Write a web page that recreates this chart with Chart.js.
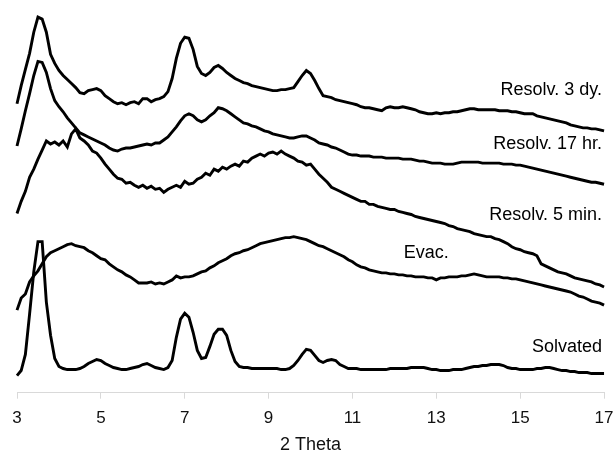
<!DOCTYPE html>
<html>
<head>
<meta charset="utf-8">
<script src="https://cdn.jsdelivr.net/npm/chart.js@4/dist/chart.umd.min.js"></script>
<style>
html,body{margin:0;padding:0;background:#fff;}
#wrap{width:615px;height:455px;position:relative;}
</style>
</head>
<body>
<div id="wrap"><canvas id="c" width="615" height="455"></canvas></div>
<script>
// 2-theta positions (degrees)
const theta = [
3.0,3.1,3.2,3.3,3.4,3.5,3.6,3.7,3.8,3.9,
4.0,4.1,4.2,4.3,4.4,4.5,4.6,4.7,4.8,4.9,
5.0,5.1,5.2,5.3,5.4,5.5,5.6,5.7,5.8,5.9,
6.0,6.1,6.2,6.3,6.4,6.5,6.6,6.7,6.8,6.9,
7.0,7.1,7.2,7.3,7.4,7.5,7.6,7.7,7.8,7.9,
8.0,8.1,8.2,8.3,8.4,8.5,8.6,8.7,8.8,8.9,
9.0,9.1,9.2,9.3,9.4,9.5,9.6,9.7,9.8,9.9,
10.0,10.1,10.2,10.3,10.4,10.5,10.6,10.7,10.8,10.9,
11.0,11.1,11.2,11.3,11.4,11.5,11.6,11.7,11.8,11.9,
12.0,12.1,12.2,12.3,12.4,12.5,12.6,12.7,12.8,12.9,
13.0,13.1,13.2,13.3,13.4,13.5,13.6,13.7,13.8,13.9,
14.0,14.1,14.2,14.3,14.4,14.5,14.6,14.7,14.8,14.9,
15.0,15.1,15.2,15.3,15.4,15.5,15.6,15.7,15.8,15.9,
16.0,16.1,16.2,16.3,16.4,16.5,16.6,16.7,16.8,16.9,
17.0
];

// Intensities (arbitrary units, traces offset vertically)
const resolv3dy = [
287,305,321,337,358,373,371,358,336,327,
320,315,311,307,303,298,297,300,301,302,
300,295,292,289,287,288,286,288,289,287,
292,292,289,291,292,294,299,312,332,347,
353,352,341,324,317,315,318,323,325,322,
318,315,312,310,308,307,305,304,303,302,
301,300,300,301,301,302,303,309,315,320,
317,310,302,295,294,293,291,290,289,288,
287,286,284,283,283,282,281,280,283,284,
283,283,284,283,282,281,279,278,277,277,
278,277,278,278,279,279,280,281,282,282,
281,281,281,281,281,280,280,280,279,279,
278,277,277,277,275,274,273,272,271,270,
269,268,266,265,264,263,263,262,262,261,
260
];
const resolv17hr = [
245,262,280,297,315,329,328,318,302,290,
284,279,273,268,263,258,256,254,252,250,
248,246,243,241,240,242,243,243,244,245,
246,247,246,248,248,251,254,259,264,270,
275,277,275,271,269,271,275,278,283,282,
280,277,274,271,268,267,265,264,262,260,
259,257,256,255,254,253,253,254,255,255,
253,251,248,247,246,244,243,241,239,237,
236,236,235,235,235,234,234,234,233,233,
233,233,232,232,232,231,230,230,229,228,
228,228,227,227,227,228,229,229,229,229,
229,228,228,228,228,228,227,227,227,226,
226,225,224,223,222,221,220,219,218,217,
216,215,214,213,212,211,210,209,209,208,
207
];
const resolv5min = [
178,190,200,214,222,232,241,250,247,249,
246,250,244,257,262,253,250,246,240,238,
233,227,222,217,213,212,208,209,206,204,
206,203,205,202,203,199,202,204,206,204,
210,207,208,212,214,218,216,222,220,224,
222,225,227,225,230,229,233,235,237,235,
238,239,237,240,237,235,233,230,229,226,
227,222,217,213,209,204,202,200,198,196,
194,192,190,190,187,187,185,184,183,182,
182,180,179,178,177,175,174,173,172,171,
170,169,168,166,165,163,162,161,160,158,
157,156,155,155,153,152,150,148,145,143,
142,140,139,138,136,128,126,124,122,120,
119,118,116,114,113,112,111,110,108,107,
105
];
const evac = [
82,94,98,110,116,121,128,135,139,141,
143,145,147,148,146,145,144,141,139,136,
133,132,128,125,122,120,117,115,112,109,
109,109,110,108,109,108,110,112,116,114,
115,115,116,118,120,121,124,126,129,131,
133,136,138,139,141,142,144,146,148,149,
150,151,152,153,154,154,155,154,153,152,
150,148,146,145,143,141,139,137,135,132,
130,127,125,124,122,121,120,119,119,118,
118,117,117,116,116,115,115,115,114,114,
112,114,114,115,115,115,116,116,117,118,
117,116,115,115,115,115,114,114,113,113,
112,111,110,109,108,107,106,105,104,103,
102,101,100,98,96,95,93,91,90,89,
87
];
const solvated = [
17,22,38,78,120,150,150,90,57,34,
26,24,23,23,23,24,26,29,31,33,
32,29,27,25,24,23,23,24,25,26,
28,29,27,25,24,23,25,32,55,73,
79,75,60,42,34,35,46,58,63,63,
57,42,31,26,25,25,24,24,24,24,
24,24,24,23,23,24,27,32,38,43,
42,37,32,30,32,33,32,28,26,24,
24,24,23,23,23,23,23,23,23,24,
24,24,24,24,25,25,25,25,24,23,
23,22,22,22,23,23,23,24,25,26,
26,27,27,28,28,28,27,25,24,24,
23,23,23,23,24,24,25,25,24,23,
22,22,21,21,20,20,20,19,19,19,
19
];

const seriesNames = ['Resolv. 3 dy.','Resolv. 17 hr.','Resolv. 5 min.','Evac.','Solvated'];
const seriesValues = [resolv3dy, resolv17hr, resolv5min, evac, solvated];
const xTicks = [3,5,7,9,11,13,15,17];

// Trace label placement (data coordinates) and alignment
const labelPlacement = [
  {x:16.95, y:296, align:'right'},
  {x:16.95, y:242, align:'right'},
  {x:16.95, y:172, align:'right'},
  {x:12.76, y:134, align:'center'},
  {x:16.95, y:40.5, align:'right'}
];

const FONT = '"Liberation Sans", Arial, Helvetica, sans-serif';

const traceLabels = {
  id:'traceLabels',
  afterDatasetsDraw(chart){
    const ctx = chart.ctx, xs = chart.scales.x, ys = chart.scales.y;
    ctx.save();
    ctx.font = '18px ' + FONT;
    ctx.fillStyle = '#000';
    ctx.textBaseline = 'alphabetic';
    seriesNames.forEach((name,i)=>{
      const p = labelPlacement[i];
      ctx.textAlign = p.align;
      ctx.fillText(name, xs.getPixelForValue(p.x), ys.getPixelForValue(p.y));
    });
    ctx.restore();
  }
};

const datasets = seriesNames.map((name,i)=>({
  label:name,
  data: theta.map((t,j)=>({x:t, y:seriesValues[i][j]})),
  borderColor:'#000',
  borderWidth:2.9,
  pointRadius:0,
  tension:0,
  fill:false,
  clip:false
}));

new Chart(document.getElementById('c'), {
  type:'line',
  data:{datasets},
  options:{
    responsive:false,
    animation:false,
    devicePixelRatio:1,
    layout:{padding:{left:17, right:0, top:0, bottom:0}},
    plugins:{legend:{display:false}, tooltip:{enabled:false}},
    scales:{
      x:{
        type:'linear',
        min:3, max:17,
        afterBuildTicks(scale){ scale.ticks = xTicks.map(v=>({value:v})); },
        ticks:{color:'#111', font:{family:FONT, size:17, lineHeight:2.1}, padding:1.5, maxRotation:0},
        grid:{display:true, drawOnChartArea:false, drawTicks:true, tickLength:6, color:'#d9d9d9'},
        border:{display:true, color:'#d9d9d9', width:1},
        title:{display:true, text:'2 Theta', color:'#111', font:{family:FONT, size:18}, padding:{top:-3, bottom:-1}}
      },
      y:{
        display:false,
        min:0, max:390
      }
    }
  },
  plugins:[traceLabels]
});
</script>
</body>
</html>
